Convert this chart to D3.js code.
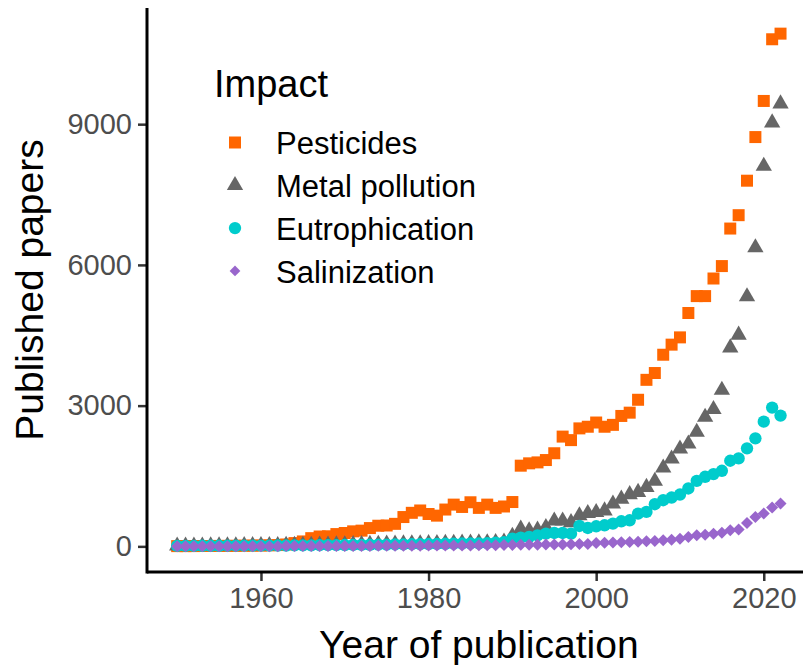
<!DOCTYPE html>
<html>
<head>
<meta charset="utf-8">
<script src="https://cdn.jsdelivr.net/npm/d3@7"></script>
<style>
  body { margin: 0; background: #fff; }
  svg { display: block; font-family: "Liberation Sans", Arial, sans-serif; }
</style>
</head>
<body>
<script>
"use strict";

// years 1950..2022
const years = d3.range(1950, 2023);

const pesticides = [
    5, 5, 6, 8, 8, 10, 10, 12, 14, 16,
    18, 22, 28, 40, 70, 105, 175, 210, 215, 262,
    285, 320, 335, 390, 440, 445, 480, 625, 715, 765,
    690, 655, 785, 890, 840, 940, 820, 890, 820, 850,
    945, 1720, 1770, 1790, 1840, 1985, 2340, 2265, 2515, 2550,
    2640, 2550, 2590, 2780, 2850, 3125, 3550, 3695, 4085, 4300,
    4455, 4975, 5335, 5335, 5710, 5975, 6775, 7060, 7795, 8725,
    9495, 10810, 10930
];

const metal = [
    10, 10, 12, 12, 14, 14, 15, 16, 18, 18,
    20, 20, 22, 24, 25, 26, 28, 30, 32, 35,
    38, 40, 42, 45, 48, 50, 52, 55, 58, 60,
    62, 65, 68, 70, 72, 75, 78, 80, 85, 95,
    220, 370, 335, 350, 405, 545, 545, 510, 655, 705,
    725, 760, 905, 1010, 1105, 1155, 1260, 1390, 1675, 1865,
    2080, 2185, 2435, 2755, 2920, 3330, 4235, 4505, 5325, 6370,
    8105, 9030, 9435
];

const eutrophication = [
    10, 10, 10, 12, 12, 12, 14, 14, 15, 15,
    16, 16, 18, 18, 20, 20, 22, 24, 25, 26,
    28, 30, 32, 34, 36, 38, 40, 42, 45, 48,
    50, 52, 55, 58, 60, 62, 65, 70, 78, 90,
    165, 185, 200, 235, 271, 285, 285, 271, 435, 392,
    428, 449, 485, 535, 556, 699, 734, 898, 984, 1041,
    1105, 1234, 1397, 1483, 1540, 1611, 1825, 1875, 2089, 2303,
    2659, 2959, 2788
];

const salinization = [
    2, 2, 2, 3, 3, 3, 3, 4, 4, 4,
    5, 5, 5, 6, 6, 6, 7, 7, 8, 8,
    9, 9, 10, 10, 11, 12, 12, 13, 14, 15,
    16, 17, 18, 19, 20, 21, 22, 24, 26, 28,
    30, 32, 34, 36, 38, 40, 42, 45, 48, 52,
    71, 75, 80, 88, 95, 100, 107, 114, 128, 143,
    164, 200, 235, 250, 271, 292, 342, 357, 499, 627,
    699, 827, 913
];

const impacts = ["Pesticides", "Metal pollution", "Eutrophication", "Salinization"];
const impactValues = [pesticides, metal, eutrophication, salinization];
const impactColors = ["#FF6600", "#666666", "#00CCCC", "#9966CC"];
const impactShapes = [d3.symbolSquare, d3.symbolTriangle, d3.symbolCircle, d3.symbolSquare];
const shapeSizes = [144, 115, 120, 72];
// salinization uses a square turned 45 degrees, like R's filled diamond
const shapeRotate = [0, 0, 0, 45];

const xTicks = [1960, 1980, 2000, 2020];
const yTicks = [0, 3000, 6000, 9000];

const width = 803, height = 665;
const panel = { left: 147, right: 810.7, top: 8, bottom: 572 };

const svg = d3.select("body").append("svg")
    .attr("width", width)
    .attr("height", height);

// ggplot style 5% expansion on both axes
const xExt = [1950, 2022];
const xPad = (xExt[1] - xExt[0]) * 0.05;
const x = d3.scaleLinear()
    .domain([xExt[0] - xPad, xExt[1] + xPad])
    .range([panel.left, panel.right]);

const yMax = d3.max(impactValues, v => d3.max(v));
const yPad = yMax * 0.05;
const y = d3.scaleLinear()
    .domain([-yPad, yMax + yPad])
    .range([panel.bottom, panel.top]);

// points, drawn series by series
impactValues.forEach((vals, i) => {
    const sym = d3.symbol().type(impactShapes[i]).size(shapeSizes[i]);
    svg.append("g")
        .selectAll("path")
        .data(years.map((yr, j) => ({ year: yr, value: vals[j] })))
        .join("path")
        .attr("transform", d => `translate(${x(d.year)},${y(d.value)})rotate(${shapeRotate[i]})`)
        .attr("d", sym)
        .attr("fill", impactColors[i]);
});

// axes
const xAxis = svg.append("g")
    .attr("transform", `translate(0,${panel.bottom})`)
    .call(d3.axisBottom(x).tickValues(xTicks).tickFormat(d3.format("d")).tickSize(9).tickPadding(6));

const yAxis = svg.append("g")
    .attr("transform", `translate(${panel.left},0)`)
    .call(d3.axisLeft(y).tickValues(yTicks).tickFormat(d3.format("d")).tickSize(9).tickPadding(6));

[xAxis, yAxis].forEach(a => {
    a.select(".domain").remove();
    a.selectAll(".tick line").attr("stroke", "#333333").attr("stroke-width", 2.5);
    a.selectAll(".tick text")
        .attr("fill", "#4D4D4D")
        .style("font-size", "29px")
        .style("font-family", "'Liberation Sans', Arial, sans-serif");
});

// axis lines (drawn after ticks)
svg.append("line")
    .attr("x1", panel.left).attr("x2", width)
    .attr("y1", panel.bottom).attr("y2", panel.bottom)
    .attr("stroke", "#000").attr("stroke-width", 3);
svg.append("line")
    .attr("x1", panel.left).attr("x2", panel.left)
    .attr("y1", panel.top).attr("y2", panel.bottom + 1.5)
    .attr("stroke", "#000").attr("stroke-width", 3);

// axis titles
svg.append("text")
    .attr("x", (panel.left + panel.right) / 2)
    .attr("y", 658)
    .attr("text-anchor", "middle")
    .style("font-size", "39px")
    .text("Year of publication");

svg.append("text")
    .attr("transform", `translate(43,${(panel.top + panel.bottom) / 2})rotate(-90)`)
    .attr("text-anchor", "middle")
    .style("font-size", "39px")
    .text("Published papers");

// legend
const legend = svg.append("g");
legend.append("text")
    .attr("x", 214)
    .attr("y", 97)
    .style("font-size", "38px")
    .text("Impact");

impacts.forEach((name, i) => {
    const rowY = 154.3 + i * 42.8;
    legend.append("path")
        .attr("transform", `translate(235,${rowY - 11.8})rotate(${shapeRotate[i]})`)
        .attr("d", d3.symbol().type(impactShapes[i]).size(shapeSizes[i] * (i === 3 ? 0.8 : 1)))
        .attr("fill", impactColors[i]);
    legend.append("text")
        .attr("x", 276)
        .attr("y", rowY)
        .style("font-size", "31px")
        .text(name);
});
</script>
</body>
</html>
